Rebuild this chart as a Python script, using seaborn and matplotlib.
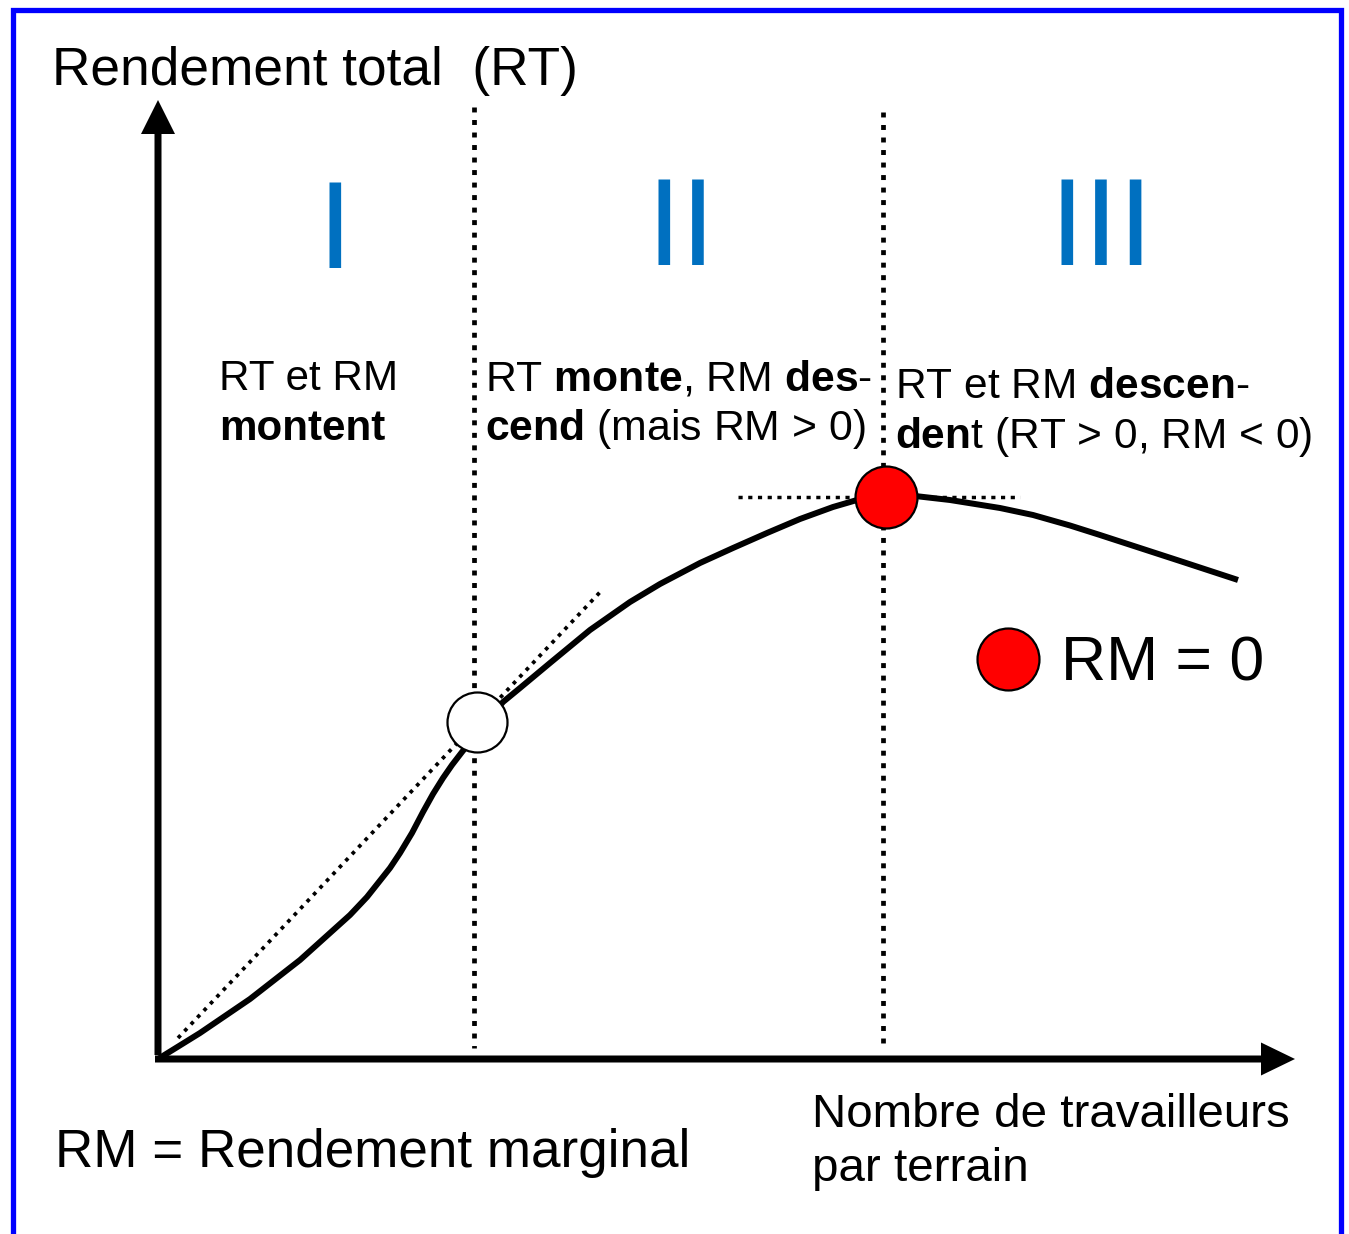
import seaborn as sns
import matplotlib.pyplot as plt
from matplotlib.transforms import Affine2D

# figure size in pixels and where the origin of the diagram sits
W, H = 1349, 1234
OX, OY = 158, 1059
PX_PER_UNIT = 100

# total yield (RT) vs number of workers
workers = [0.0, 0.42, 0.92, 1.42, 1.92, 2.09, 2.32, 2.42, 2.54, 2.65, 2.75, 2.85,
           2.94, 3.04, 3.24, 3.45, 3.62, 3.92, 4.32, 4.72, 5.02, 5.42, 5.75, 6.09,
           6.42, 6.75, 6.99, 7.28, 7.57, 7.92, 8.42, 8.75, 9.12, 9.42, 9.82, 10.22,
           10.80]
total_yield = [0.0, 0.26, 0.60, 0.99, 1.44, 1.62, 1.91, 2.06, 2.26, 2.47, 2.65, 2.81,
               2.94, 3.07, 3.32, 3.57, 3.71, 3.96, 4.29, 4.57, 4.75, 4.96, 5.11, 5.26,
               5.40, 5.52, 5.59, 5.63, 5.63, 5.59, 5.51, 5.44, 5.335, 5.24, 5.11, 4.98,
               4.79]

# tangent from the origin through the inflection point
tangent_x = [0.20, 4.45]
tangent_y = [0.21, 4.70]

# special points
inflection = (3.19, 3.37)
maximum = (7.28, 5.62)
max_level_x = [5.80, 8.62]

# phase boundaries (dotted verticals)
phase_bounds = [3.16, 7.25]
bound_bottom = [0.11, 0.09]
bound_top = [9.52, 9.47]

phase_names = ['I', 'II', 'III']

sns.set_theme(style='white')
plt.rcParams['font.family'] = ['Liberation Sans', 'DejaVu Sans']
plt.rcParams['text.color'] = 'black'
plt.rcParams['mathtext.fontset'] = 'custom'
plt.rcParams['mathtext.rm'] = 'Liberation Sans'
plt.rcParams['mathtext.bf'] = 'Liberation Sans:bold'
plt.rcParams['mathtext.it'] = 'Liberation Sans:italic'

fig = plt.figure(figsize=(W / 100, H / 100), dpi=100)
fig.patch.set_facecolor('white')
ax = fig.add_axes([0, 0, 1, 1])
ax.set_xlim(-OX / PX_PER_UNIT, (W - OX) / PX_PER_UNIT)
ax.set_ylim(-(H - OY) / PX_PER_UNIT, OY / PX_PER_UNIT)
ax.axis('off')

# pixel coordinates (top-left origin) for layout items
pix = Affine2D().scale(1 / W, -1 / H).translate(0, 1) + fig.transFigure

# blue frame (open at the bottom)
ax.add_line(plt.Line2D([12.5, 12.5, 1341, 1341], [H + 10, 10, 10, H + 10],
                       transform=pix, color='#0000FF', lw=3.8,
                       solid_joinstyle='miter', clip_on=False))

# axes arrows
ax.arrow(0, 0.04, 0, 9.55, width=0.07, head_width=0.34, head_length=0.34,
         length_includes_head=True, color='black', lw=0, zorder=3)
ax.arrow(-0.03, 0, 11.40, 0, width=0.07, head_width=0.33, head_length=0.34,
         length_includes_head=True, color='black', lw=0, zorder=3)

# phase boundaries, drawn top-down so the dot pattern starts at the top
for bx, b0, b1 in zip(phase_bounds, bound_bottom, bound_top):
    ax.plot([bx, bx], [b1, b0], color='black', lw=3.4,
            linestyle=(0, (1.05, 1.6)), dash_capstyle='butt', zorder=2)

# tangent and max level
sns.lineplot(x=tangent_x, y=tangent_y, sort=False, color='black', lw=2.7,
             linestyle=(0, (1.0, 1.5)), ax=ax, zorder=2)
sns.lineplot(x=max_level_x, y=[maximum[1], maximum[1]], sort=False, color='black',
             lw=2.5, linestyle=(0, (1.2, 1.6)), ax=ax, zorder=2)

# total yield curve
sns.lineplot(x=workers, y=total_yield, sort=False, color='black', lw=4.3,
             ax=ax, zorder=4)
ax.lines[-1].set_solid_capstyle('butt')
ax.lines[-1].set_solid_joinstyle('round')

# points
sns.scatterplot(x=[inflection[0]], y=[inflection[1]], s=1866, color='white',
                edgecolor='black', linewidth=1.6, ax=ax, zorder=5)
sns.scatterplot(x=[maximum[0]], y=[maximum[1]], s=1990, color='#FF0000',
                edgecolor='black', linewidth=1.6, ax=ax, zorder=5, label='RM = 0')

ax.legend(loc='center left', bbox_to_anchor=(977 / W, 1 - 664 / H),
          bbox_transform=fig.transFigure, frameon=False, fontsize=45,
          handlelength=1.0, handletextpad=0.35, borderpad=0, borderaxespad=0,
          scatteryoffsets=[0.5])

# roman numerals for the phases
for name, x, y in zip(phase_names, [334.5, 681, 1101.5], [268, 265, 265]):
    ax.text(x, y, name, transform=pix, fontsize=90, color='#0070C0',
            ha='center', va='baseline')

# axis titles
ax.text(52, 85, 'Rendement total  (RT)', transform=pix, fontsize=38.3,
        ha='left', va='baseline')
ax.text(812, 1127, 'Nombre de travailleurs', transform=pix, fontsize=34.2,
        ha='left', va='baseline')
ax.text(812, 1181, 'par terrain', transform=pix, fontsize=34.2,
        ha='left', va='baseline')
ax.text(55, 1167, 'RM = Rendement marginal', transform=pix, fontsize=38.2,
        ha='left', va='baseline')

# phase descriptions
fs = 30.3
ax.text(219, 390, 'RT et RM', transform=pix, fontsize=fs, va='baseline')
ax.text(219, 440, 'montent', transform=pix, fontsize=fs, fontweight='bold',
        va='baseline')
ax.text(485, 390, r'RT $\mathbf{monte}$, RM $\mathbf{des}$-', transform=pix,
        fontsize=30.8, va='baseline')
ax.text(485, 440, r'$\mathbf{cend}$ (mais RM > 0)', transform=pix,
        fontsize=30.8, va='baseline')
ax.text(895, 398, r'RT et RM $\mathbf{descen}$-', transform=pix,
        fontsize=30.6, va='baseline')
ax.text(895, 448, r'$\mathbf{den}$t (RT > 0, RM < 0)', transform=pix,
        fontsize=30.6, va='baseline')

fig.savefig('out.png', dpi=100)
